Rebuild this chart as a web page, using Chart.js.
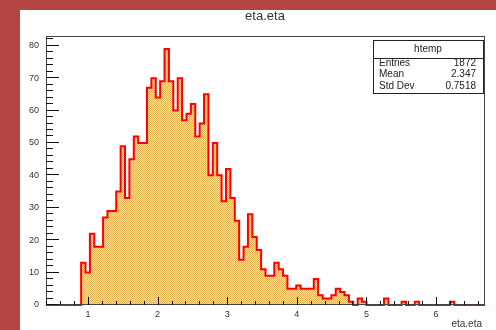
<!DOCTYPE html>
<html><head><meta charset="utf-8">
<script src="https://cdn.jsdelivr.net/npm/chart.js@4.4.1/dist/chart.umd.min.js"></script>
<style>
html,body{margin:0;padding:0;background:#b54444;overflow:hidden}
#wrap{width:496px;height:330px;position:relative}
</style>
</head><body><div id="wrap"><canvas id="c" width="496" height="330"></canvas></div>
<script>
// ---- data ----
const histTitle = 'eta.eta';
const xAxisTitle = 'eta.eta';
const xMin = 0.3966;
const xMax = 6.704;
const binCounts = [
  0, 0, 0, 0, 0, 0, 0, 0, 13, 10,
  22, 18, 18, 27, 29, 29, 35, 49, 33, 45,
  52, 50, 50, 67, 70, 64, 69, 79, 69, 60,
  70, 57, 59, 62, 52, 56, 65, 40, 50, 40,
  32, 42, 33, 26, 14, 18, 28, 21, 17, 11,
  9, 9, 13, 11, 9, 5, 5, 6, 5, 5,
  5, 8, 3, 2, 2, 3, 5, 4, 3, 1,
  0, 2, 1, 0, 0, 0, 0, 2, 0, 0,
  0, 1, 0, 0, 1, 0, 0, 0, 0, 0,
  0, 0, 1, 0, 0, 0, 0, 0, 0, 0
];
const yTickValues = [0, 10, 20, 30, 40, 50, 60, 70, 80];
const xTickValues = [1, 2, 3, 4, 5, 6];
const statsName = 'htemp';
const statsLabels = ['Entries', 'Mean', 'Std Dev'];
const statsValues = ['1872', '2.347', '0.7518'];

// ---- build step points (bin left edges + final right edge) ----
const nBins = binCounts.length;
const binW = (xMax - xMin) / nBins;
const points = binCounts.map((v, i) => ({x: xMin + i * binW, y: v}));
points.push({x: xMax, y: binCounts[nBins - 1]});

const FONT = "'Liberation Sans', Arial, Helvetica, sans-serif";
const canvas = document.getElementById('c');
const ctx = canvas.getContext('2d');

// fine dithered fill like ROOT
const pc = document.createElement('canvas'); pc.width = 2; pc.height = 2;
const pctx = pc.getContext('2d');
pctx.fillStyle = '#f7e2b4'; pctx.fillRect(0, 0, 2, 2);
pctx.fillStyle = '#e0b050'; pctx.fillRect(0, 0, 1, 1); pctx.fillRect(1, 1, 1, 1);
const fillPattern = ctx.createPattern(pc, 'repeat');

const rootDecor = {
  id: 'rootDecor',
  beforeDraw(chart) {
    const c = chart.ctx;
    c.save();
    c.fillStyle = '#b54444';
    c.fillRect(0, 0, chart.width, chart.height);
    c.fillStyle = '#ffffff';
    c.fillRect(20, 10, chart.width - 20, chart.height - 10);
    c.restore();
  },
  afterDatasetsDraw(chart) {
    const c = chart.ctx;
    const a = chart.chartArea;
    const xs = chart.scales.x, ys = chart.scales.y;
    c.save();
    // frame
    c.strokeStyle = '#444';
    c.lineWidth = 1;
    c.strokeRect(a.left + 0.5, a.top + 0.5, a.right - a.left - 1, a.bottom - a.top - 1);
    // y ticks (inward)
    c.strokeStyle = '#111';
    c.beginPath();
    for (let v = 0; v <= ys.max; v += 2) {
      const py = Math.round(ys.getPixelForValue(v)) - 0.5;
      const len = (v % 10 === 0) ? 13 : 7;
      c.moveTo(a.left, py); c.lineTo(a.left + len, py);
    }
    // x ticks (inward)
    for (let k = 1; k * 0.2 <= xs.max; k++) {
      const v = k * 0.2;
      if (v < xs.min) continue;
      const px = Math.round(xs.getPixelForValue(v)) + 0.5;
      const major = Math.abs(v - Math.round(v)) < 1e-6;
      const len = major ? 8 : 4;
      c.moveTo(px, a.bottom); c.lineTo(px, a.bottom - len);
    }
    c.stroke();
    // title
    c.fillStyle = '#333';
    c.font = '13px ' + FONT;
    c.textAlign = 'center'; c.textBaseline = 'middle';
    c.fillText(histTitle, 265, 16);
    // x axis title
    c.font = '10px ' + FONT;
    c.textAlign = 'right';
    c.fillText(xAxisTitle, 482, 324);
    // stats box
    const bx = 373, by = 40, bw = 110, bh = 53;
    c.fillStyle = '#fff';
    c.fillRect(bx, by, bw, bh);
    c.strokeStyle = '#222';
    c.strokeRect(bx + 0.5, by + 0.5, bw, bh);
    c.beginPath(); c.moveTo(bx, by + 18.5); c.lineTo(bx + bw, by + 18.5); c.stroke();
    c.fillStyle = '#222';
    c.font = '10px ' + FONT;
    c.textAlign = 'center';
    c.fillText(statsName, bx + bw / 2, by + 9);
    const rowY = [63, 74.5, 86.5];
    statsLabels.forEach((lab, i) => {
      c.textAlign = 'left'; c.fillText(lab, 379, rowY[i]);
      c.textAlign = 'right'; c.fillText(statsValues[i], 476, rowY[i]);
    });
    c.restore();
  }
};

new Chart(canvas, {
  type: 'line',
  data: {
    datasets: [{
      data: points,
      stepped: 'before',
      borderColor: '#ff0000',
      borderWidth: 2,
      backgroundColor: fillPattern,
      fill: 'origin',
      pointRadius: 0,
      tension: 0,
      clip: 3
    }]
  },
  options: {
    responsive: false,
    animation: false,
    devicePixelRatio: 1,
    layout: {padding: {left: 0, top: 36, right: 11, bottom: 0}},
    plugins: {legend: {display: false}, tooltip: {enabled: false}, title: {display: false}},
    scales: {
      x: {
        type: 'linear',
        min: xMin, max: xMax,
        afterFit: s => { s.height = 25; },
        grid: {display: false, drawTicks: false},
        border: {display: false},
        afterBuildTicks: s => { s.ticks = xTickValues.map(v => ({value: v})); },
        ticks: {
          autoSkip: false, maxRotation: 0, padding: 4,
          color: '#333', font: {family: FONT, size: 9},
          callback: v => String(v)
        }
      },
      y: {
        type: 'linear',
        min: 0, max: 83,
        afterFit: s => { s.width = 46; },
        grid: {display: false, drawTicks: false},
        border: {display: false},
        afterBuildTicks: s => { s.ticks = yTickValues.map(v => ({value: v})); },
        ticks: {
          padding: 7, color: '#333', font: {family: FONT, size: 9},
          callback: v => String(v)
        }
      }
    }
  },
  plugins: [rootDecor]
});
</script>
</body></html>
